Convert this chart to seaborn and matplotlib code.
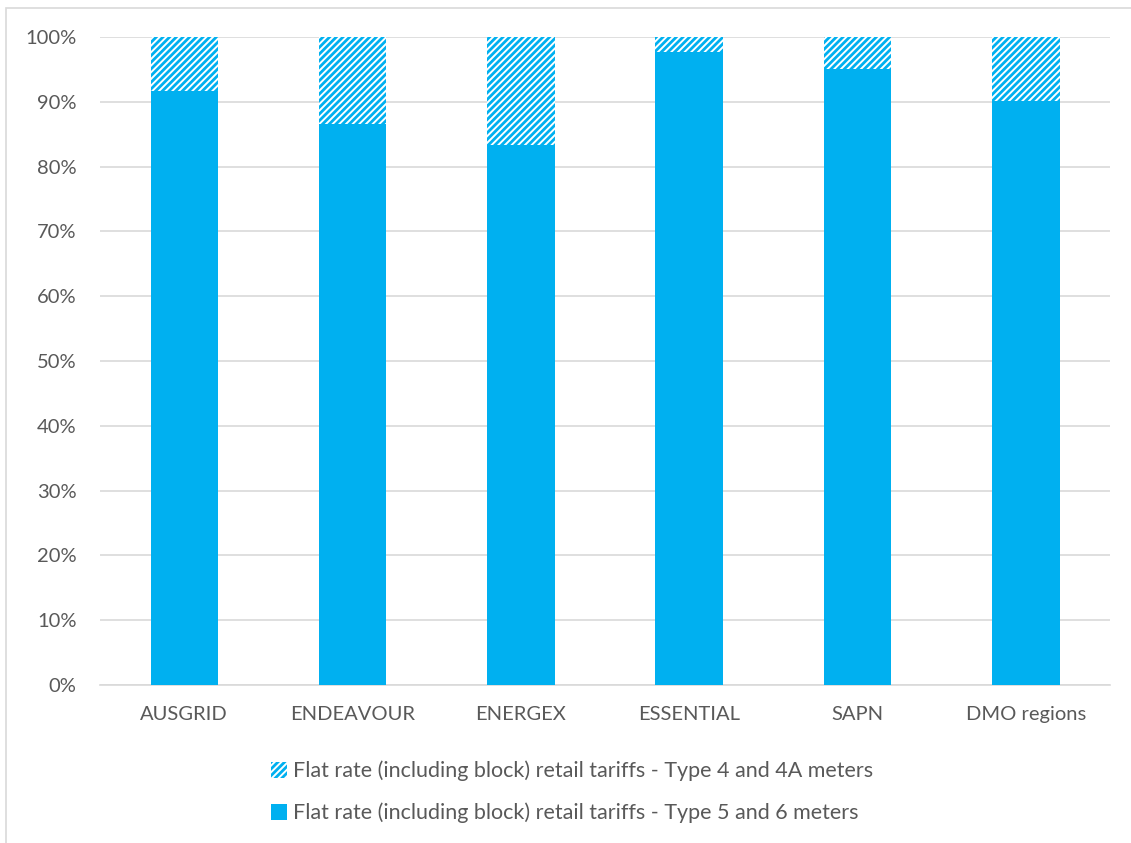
import matplotlib
matplotlib.use("Agg")
import matplotlib.pyplot as plt
import seaborn as sns
import pandas as pd
from matplotlib.patches import Rectangle, Patch
from matplotlib.ticker import PercentFormatter

regions = ["AUSGRID", "ENDEAVOUR", "ENERGEX", "ESSENTIAL", "SAPN", "DMO regions"]
type56 = [91.7, 86.6, 83.4, 97.7, 95.0, 90.1]
type4 = [8.3, 13.4, 16.6, 2.3, 5.0, 9.9]
label4 = "Flat rate (including block) retail tariffs - Type 4 and 4A meters"
label56 = "Flat rate (including block) retail tariffs - Type 5 and 6 meters"

blue = "#00B0F0"
grey_text = "#595959"
grid = "#D9D9D9"

sns.set_theme(style="white")
plt.rcParams["font.family"] = ["Lato", "DejaVu Sans"]
plt.rcParams["hatch.linewidth"] = 2.0
plt.rcParams["hatch.color"] = blue

df = pd.DataFrame({"region": regions, "t56": type56, "t4": type4})
df["total"] = df["t56"] + df["t4"]

fig = plt.figure(figsize=(11.31, 8.43), dpi=100)
ax = fig.add_axes([100 / 1131, 1 - 685 / 843, 1010 / 1131, (685 - 37) / 843])

sns.barplot(data=df, x="region", y="total", ax=ax, color="white", width=0.4,
            edgecolor=blue, linewidth=0, hatch="/////", saturation=1, zorder=2)
for p in ax.patches:
    p.set_hatch("/////")
    p.set_edgecolor(blue)
    p.set_linewidth(0)
sns.barplot(data=df, x="region", y="t56", ax=ax, color=blue, width=0.4,
            saturation=1, linewidth=0, zorder=3)

ax.set_ylim(0, 100)
ax.set_yticks(range(0, 101, 10))
ax.yaxis.set_major_formatter(PercentFormatter(decimals=0))
ax.set_xlim(-0.5, 5.5)
ax.grid(axis="y", color=grid, linewidth=1.2, zorder=0)
ax.set_axisbelow(True)
for s in ["top", "right", "left"]:
    ax.spines[s].set_visible(False)
ax.spines["bottom"].set_color(grid)
ax.spines["bottom"].set_linewidth(1.2)
ax.set_xlabel("")
ax.set_ylabel("")
ax.tick_params(axis="both", length=0, labelsize=14.5, colors=grey_text)
ax.tick_params(axis="y", pad=17)
ax.tick_params(axis="x", pad=15)

h4 = Patch(facecolor="white", edgecolor=blue, hatch="/////", linewidth=0, label=label4)
h56 = Patch(facecolor=blue, edgecolor=blue, linewidth=0, label=label56)
leg = fig.legend(handles=[h4, h56], loc="center", bbox_to_anchor=(572 / 1131, 1 - 792 / 843),
                 ncol=1, frameon=False, fontsize=15.5, handlelength=0.75, handleheight=0.75,
                 handletextpad=0.25, labelspacing=1.0, labelcolor=grey_text)

fig.patches.append(Rectangle((6 / 1131, -0.1), 2, 1.1 - 8 / 843, transform=fig.transFigure,
                             fill=False, edgecolor=grid, linewidth=1.2, zorder=0))

fig.savefig("out.png", dpi=100)
